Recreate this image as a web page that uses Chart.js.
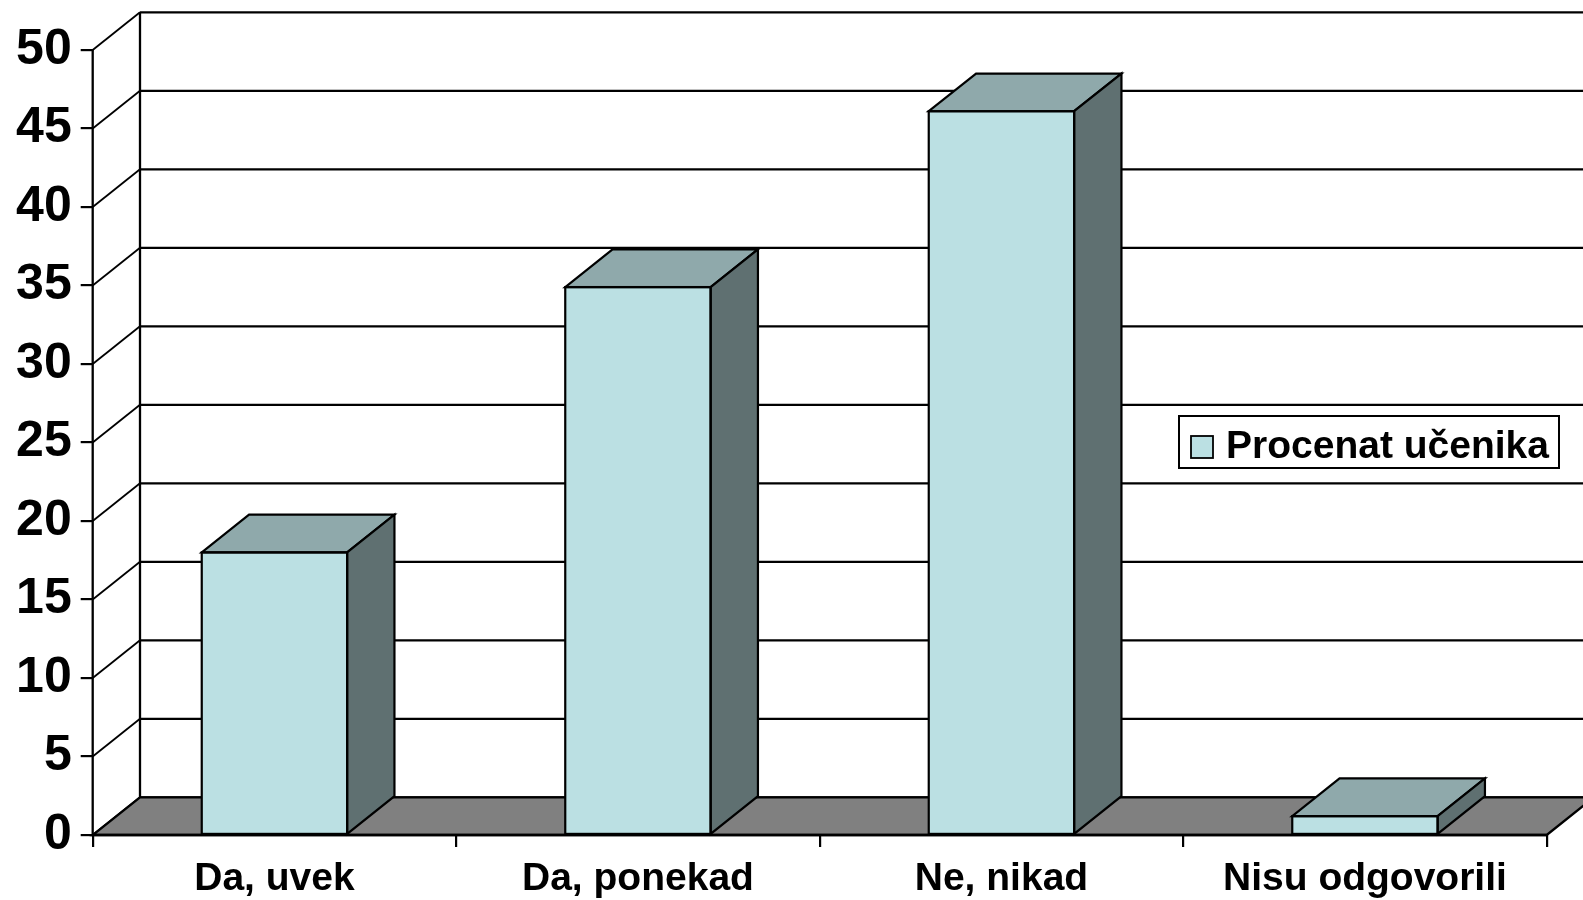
<!DOCTYPE html>
<html>
<head>
<meta charset="utf-8">
<script src="https://cdn.jsdelivr.net/npm/chart.js@4/dist/chart.umd.min.js"></script>
<style>
  html, body { margin: 0; padding: 0; background: #ffffff; }
  #wrap { width: 1583px; height: 900px; position: relative; }
</style>
</head>
<body>
<div id="wrap"><canvas id="c" width="1583" height="900"></canvas></div>
<script>
// ---- data ----
const categories = ['Da, uvek', 'Da, ponekad', 'Ne, nikad', 'Nisu odgovorili'];
const values = [18.0, 34.9, 46.1, 1.2];
const seriesLabel = 'Procenat učenika';
const yMin = 0;
const yMax = 50;
const yStep = 5;

// ---- style ----
const FONT = '"Liberation Sans", Arial, sans-serif';
const FRONT = '#BBE0E3';
const TOP = '#8FA9AB';
const SIDE = '#5F7071';
const FLOOR = '#808080';
const DEPTH_X = 47.3;
const DEPTH_Y = -37.7;

const threeD = {
  id: 'threeD',
  beforeDatasetsDraw(chart) {
    const ctx = chart.ctx;
    const area = chart.chartArea;
    const ys = chart.scales.y;
    ctx.save();
    ctx.strokeStyle = '#000';
    ctx.lineCap = 'butt';
    // back wall grid lines + diagonals
    for (let v = yMin; v <= yMax + 1e-9; v += yStep) {
      const py = ys.getPixelForValue(v);
      ctx.lineWidth = 2.3;
      ctx.beginPath();
      ctx.moveTo(area.left + DEPTH_X, py + DEPTH_Y);
      ctx.lineTo(area.right + DEPTH_X, py + DEPTH_Y);
      ctx.stroke();
      ctx.lineWidth = 1.8;
      ctx.beginPath();
      ctx.moveTo(area.left, py);
      ctx.lineTo(area.left + DEPTH_X, py + DEPTH_Y);
      ctx.stroke();
    }
    // back wall left edge
    ctx.lineWidth = 2.3;
    ctx.beginPath();
    ctx.moveTo(area.left + DEPTH_X, ys.getPixelForValue(yMax) + DEPTH_Y);
    ctx.lineTo(area.left + DEPTH_X, ys.getPixelForValue(yMin) + DEPTH_Y);
    ctx.stroke();
    // floor
    const b = ys.getPixelForValue(yMin);
    ctx.fillStyle = FLOOR;
    ctx.beginPath();
    ctx.moveTo(area.left, b);
    ctx.lineTo(area.right, b);
    ctx.lineTo(area.right + DEPTH_X, b + DEPTH_Y);
    ctx.lineTo(area.left + DEPTH_X, b + DEPTH_Y);
    ctx.closePath();
    ctx.fill();
    ctx.lineWidth = 2.3;
    ctx.stroke();
    // front axis lines
    ctx.lineWidth = 2.3;
    ctx.beginPath();
    ctx.moveTo(area.left, ys.getPixelForValue(yMax));
    ctx.lineTo(area.left, b);
    ctx.lineTo(area.right, b);
    ctx.stroke();
    ctx.restore();
  },
  afterDatasetsDraw(chart) {
    const ctx = chart.ctx;
    const meta = chart.getDatasetMeta(0);
    ctx.save();
    ctx.strokeStyle = '#000';
    ctx.lineWidth = 2.2;
    ctx.lineJoin = 'miter';
    meta.data.forEach((bar) => {
      const p = bar.getProps(['x', 'y', 'base', 'width'], true);
      const x1 = p.x - p.width / 2, x2 = p.x + p.width / 2;
      const yt = p.y, yb = p.base;
      // top face
      ctx.fillStyle = TOP;
      ctx.beginPath();
      ctx.moveTo(x1, yt);
      ctx.lineTo(x2, yt);
      ctx.lineTo(x2 + DEPTH_X, yt + DEPTH_Y);
      ctx.lineTo(x1 + DEPTH_X, yt + DEPTH_Y);
      ctx.closePath();
      ctx.fill();
      ctx.stroke();
      // side face
      ctx.fillStyle = SIDE;
      ctx.beginPath();
      ctx.moveTo(x2, yt);
      ctx.lineTo(x2 + DEPTH_X, yt + DEPTH_Y);
      ctx.lineTo(x2 + DEPTH_X, yb + DEPTH_Y);
      ctx.lineTo(x2, yb);
      ctx.closePath();
      ctx.fill();
      ctx.stroke();
      // front outline
      ctx.strokeRect(x1, yt, p.width, yb - yt);
    });
    ctx.restore();
  },
  afterDraw(chart) {
    // legend
    const ctx = chart.ctx;
    const ds = chart.data.datasets[0];
    ctx.save();
    ctx.fillStyle = '#fff';
    ctx.strokeStyle = '#000';
    ctx.lineWidth = 2;
    ctx.fillRect(1179, 416, 380, 52);
    ctx.strokeRect(1179, 416, 380, 52);
    ctx.fillStyle = ds.backgroundColor;
    ctx.fillRect(1191, 436, 22, 22);
    ctx.lineWidth = 1.8;
    ctx.strokeRect(1191, 436, 22, 22);
    ctx.fillStyle = '#000';
    ctx.font = 'bold 39px ' + FONT;
    ctx.textBaseline = 'alphabetic';
    ctx.textAlign = 'left';
    ctx.fillText(ds.label, 1226, 458.3);
    ctx.restore();
  }
};

new Chart(document.getElementById('c'), {
  type: 'bar',
  data: {
    labels: categories,
    datasets: [{
      label: seriesLabel,
      data: values,
      backgroundColor: FRONT,
      borderColor: '#000',
      borderWidth: 0,
      barPercentage: 0.4,
      categoryPercentage: 1.0
    }]
  },
  options: {
    responsive: false,
    animation: false,
    devicePixelRatio: 1,
    layout: { padding: { top: 50, right: 36.3, left: 0, bottom: 0 } },
    plugins: {
      legend: { display: false },
      tooltip: { enabled: false },
      title: { display: false }
    },
    scales: {
      x: {
        offset: true,
        grid: { offset: true, drawOnChartArea: false, drawTicks: true, tickLength: 12, color: '#000', lineWidth: 2.2 },
        border: { display: false },
        ticks: { color: '#000', padding: 9, maxRotation: 0, autoSkip: false, font: { family: FONT, size: 39, weight: 'bold' } },
        afterFit(scale) { scale.height = 65; }
      },
      y: {
        min: yMin,
        max: yMax,
        grid: { drawOnChartArea: false, drawTicks: true, tickLength: 12, color: '#000', lineWidth: 2.2 },
        border: { display: false },
        ticks: { stepSize: yStep, color: '#000', padding: 9, font: { family: FONT, size: 50, weight: 'bold' } },
        afterFit(scale) { scale.width = 92.7; }
      }
    }
  },
  plugins: [threeD]
});
</script>
</body>
</html>
